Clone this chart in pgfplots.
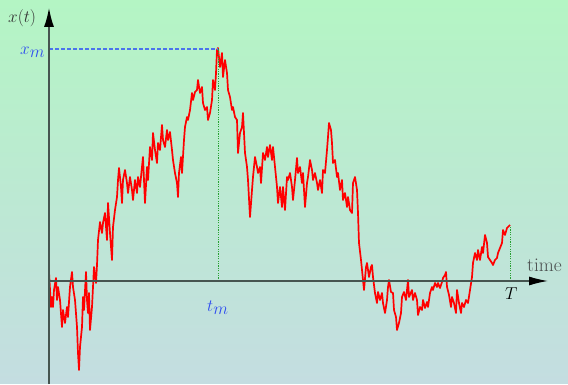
\documentclass[border=0pt]{standalone}
\usepackage{pgfplots}
\pgfplotsset{compat=1.18}
\usetikzlibrary{arrows.meta,backgrounds}
\definecolor{bgtop}{RGB}{180,245,196}
\definecolor{bgbot}{RGB}{196,221,225}
\definecolor{axgray}{RGB}{70,85,80}
\definecolor{lblue}{RGB}{45,75,240}
\definecolor{dblue}{RGB}{75,115,235}
\definecolor{dgreen}{RGB}{40,160,50}
\definecolor{tgray}{RGB}{75,80,80}
\begin{document}
\begin{tikzpicture}
\begin{axis}[scale only axis, width=568bp, height=384bp,
  xmin=-49, xmax=519, ymin=-103, ymax=281, hide axis, clip=false]
\addplot[red, line width=1.7bp, line join=round] coordinates {
(0,9) (2,-26) (3,-16) (4,-26) (5,-9) (7,3) (8,-19) (9,-6) (11,-19) (13,-46) (14,-29) (16,-42) (18,-26) (19,-36)
(21,-6) (23,9) (24,-6) (26,-19) (28,-46) (29,-72) (30,-89) (31,-66) (33,-46) (34,-16) (35,-29) (37,9) (38,-19)
(39,-32) (40,-12) (41,-49) (43,-26) (44,-6) (45,14) (47,-2) (48,16) (49,41)
(51,59) (53,48) (54,58) (56,68) (58,41) (59,78) (61,48) (63,21) (64,54) (66,71) (68,84) (69,101) (70,113)
(72,94) (73,78) (74,101) (76,111) (78,98) (79,88) (81,104) (83,91) (84,81) (86,101) (88,88) (89,104) (91,94)
(93,114) (94,124) (96,78) (98,114) (99,101) (101,134) (103,121) (104,148) (106,131) (108,118) (109,138)
(111,131) (113,156) (114,141) (116,134) (118,151) (119,141) (121,149) (123,131) (124,121) (126,108) (128,98)
(129,84) (130,108) (132,124) (133,108) (135,141) (136,154) (138,164) (139,161) (141,171) (143,188) (144,181)
(146,189) (148,191) (149,201) (151,188) (153,194) (154,178) (156,171) (158,174) (159,161) (161,168) (163,181)
(164,201) (166,191) (167,208) (168,231) (169,233)
(171,214) (173,228) (174,204) (176,221) (178,208) (179,191) (181,184) (183,171) (184,174) (186,164) (188,161)
(189,128) (191,148) (193,154) (194,168) (196,128) (198,114) (199,101) (201,64) (203,91) (204,104) (206,124)
(208,114) (209,108) (211,114) (212,98) (214,128) (216,121) (218,134) (219,124) (221,136) (223,121) (224,134)
(226,114) (228,94) (229,78) (231,94) (233,74) (234,94) (236,71) (238,104) (239,101) (241,108) (243,94) (244,81)
(246,101) (248,123) (249,108) (251,114) (253,98) (254,108) (256,74) (258,98) (259,104) (261,121) (263,111)
(264,101) (266,108) (268,98) (269,91) (271,101) (273,88) (274,111) (276,108) (278,131) (279,144) (280,158)
(282,151) (283,138) (284,118) (286,121) (288,104) (289,108) (291,91) (293,101) (294,81) (296,88) (298,74)
(299,84) (301,71) (303,68) (304,98) (306,104) (308,91) (309,68) (310,38) (312,21) (313,11) (315,-9) (317,14)
(318,18) (320,4) (322,14) (323,16) (324,4) (326,-12) (328,-22) (329,-11) (331,-19) (333,-12) (334,-22) (336,-32)
(338,-19) (339,-6) (340,1) (342,-11) (344,-12) (345,-29) (347,-36) (348,-49) (350,-42) (352,-32) (353,-16)
(355,-11) (357,-19) (359,1) (360,-16) (363,-9) (364,-19) (366,-12) (368,-19) (369,-34) (371,-26) (373,-29)
(374,-19) (376,-27) (378,-21) (379,-26) (381,-12) (383,-6) (384,-9) (386,-2) (388,-6) (389,-2) (391,-7)
(393,-1) (394,3) (396,6) (397,9) (398,-6) (400,-14) (402,-26) (403,-16) (405,-22) (407,-32) (408,-9) (410,-22)
(412,-32) (413,-22) (415,-26) (417,-19) (419,-22) (421,-9) (423,4) (424,18) (426,28) (428,21) (429,31) (431,21)
(433,34) (434,28) (436,46) (438,38) (439,24) (441,21) (443,18) (444,16) (446,21) (448,23) (449,28) (451,33)
(453,38) (454,51) (456,46) (458,53) (459,54) (461,56)
};
\addplot[dblue, line width=1.3bp, dash pattern=on 3.5bp off 2.5bp] coordinates {(0,232) (169,232)};
\addplot[dgreen, line width=1bp, dash pattern=on 1.2bp off 1.2bp] coordinates {(169,0) (169,232)};
\addplot[dgreen, line width=1bp, dash pattern=on 1.2bp off 1.2bp] coordinates {(461,0) (461,55)};
\draw[axgray, line width=1.3bp, -{Latex[length=19bp,width=10bp,black]}] (axis cs:0,-103) -- (axis cs:0,273);
\draw[axgray, line width=1.3bp, -{Latex[length=19bp,width=9bp,black]}] (axis cs:0,0) -- (axis cs:499,0);
\node[anchor=base west, inner sep=0pt, font=\fontsize{18}{21}\selectfont, text=black!80] at (axis cs:-41,258) {$x(t)$};
\node[anchor=base west, inner sep=0pt, font=\fontsize{17.5}{20}\selectfont, text=lblue] at (axis cs:-29,226) {$x_{\textstyle m}$};
\node[anchor=base west, inner sep=0pt, font=\fontsize{17.5}{20}\selectfont, text=lblue] at (axis cs:158,-31) {$t_{\textstyle m}$};
\node[anchor=base west, inner sep=0pt, font=\fontsize{16}{19}\selectfont, text=black] at (axis cs:456,-19) {$T$};
\node[anchor=base west, inner sep=0pt, font=\fontsize{19.5}{22}\selectfont, text=tgray] at (axis cs:478,9) {time};
\end{axis}
\begin{scope}[on background layer]
\fill[top color=bgtop, bottom color=bgbot] (current axis.south west) rectangle (current axis.north east);
\end{scope}
\end{tikzpicture}
\end{document}
